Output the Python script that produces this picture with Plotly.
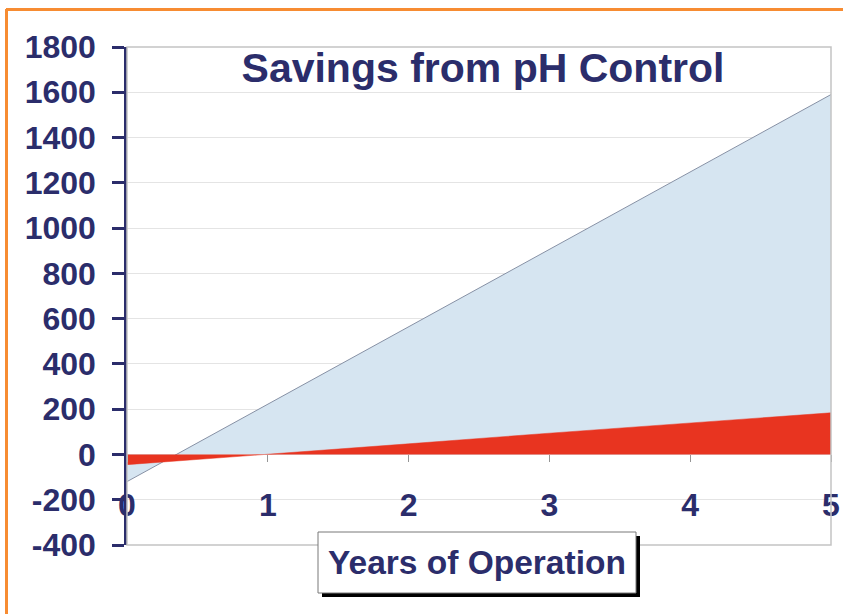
import plotly.graph_objects as go

# ---- data ----
years = [0, 1, 2, 3, 4, 5]
gross_savings = [-120, 222, 565, 905, 1250, 1590]
net_savings = [-45, 0, 47, 94, 139, 184]
x_ticks = [0, 1, 2, 3, 4, 5]
y_ticks = [-400, -200, 0, 200, 400, 600, 800, 1000, 1200, 1400, 1600, 1800]
y_tick_text = ["-400", "-200", "0", "200", "400", "600", "800", "1000", "1200",
               "1400", "1600", "1800"]

NAVY = "#2b2d6b"
FONT = "Liberation Sans, Arial, sans-serif"

W, H = 843, 614
L, R, T, B = 127, 12, 47, 69
PW, PH = W - L - R, H - T - B


def px(x):
    return (x - L) / PW


def py(y):
    return (H - B - y) / PH


fig = go.Figure()
fig.add_trace(go.Scatter(
    x=years, y=gross_savings, mode="lines", fill="tozeroy",
    fillcolor="rgb(214,229,241)", line=dict(color="rgb(135,145,165)", width=1),
    showlegend=False, hoverinfo="skip"))
fig.add_trace(go.Scatter(
    x=years, y=net_savings, mode="lines", fill="tozeroy",
    fillcolor="rgb(232,52,32)", line=dict(color="rgb(232,52,32)", width=0.5),
    showlegend=False, hoverinfo="skip"))

zero_pos = (0 - y_ticks[0]) / (y_ticks[-1] - y_ticks[0])

fig.update_layout(
    width=W, height=H,
    margin=dict(l=L, r=R, t=T, b=B, autoexpand=False),
    paper_bgcolor="white", plot_bgcolor="white",
    title=dict(text="Savings from pH Control", x=px(483), xref="paper",
               y=1 - 68 / H, yanchor="middle", xanchor="center",
               font=dict(family=FONT, size=41, color=NAVY, weight="bold")),
    xaxis=dict(range=[0, 5], tickvals=x_ticks, ticktext=[str(v) for v in x_ticks],
               anchor="free", position=zero_pos, showgrid=False, zeroline=False,
               automargin=False,
               showline=False, ticks="outside", ticklen=7, tickwidth=1,
               tickcolor="rgb(150,150,150)", ticklabelstandoff=15,
               tickfont=dict(family=FONT, size=32, color=NAVY, weight="bold")),
    yaxis=dict(range=[-400, 1800], tickvals=y_ticks, ticktext=y_tick_text,
               showgrid=True, automargin=False,
               gridcolor="rgb(228,228,228)", gridwidth=1, zeroline=False,
               showline=True, linecolor=NAVY, linewidth=2.5,
               ticks="outside", ticklen=12, tickwidth=2.5, tickcolor=NAVY,
               ticklabelstandoff=10,
               tickfont=dict(family=FONT, size=32, color=NAVY, weight="bold")),
)

shapes = []
# plot frame (gray)
shapes.append(dict(type="rect", xref="paper", yref="paper", x0=0, x1=1, y0=0, y1=1,
                   line=dict(color="rgb(195,195,195)", width=1.5), layer="above"))
# orange page frame
orange = "rgb(247,140,50)"
shapes.append(dict(type="line", xref="paper", yref="paper",
                   x0=px(6), x1=px(W + 5), y0=py(9.5), y1=py(9.5),
                   line=dict(color=orange, width=3)))
shapes.append(dict(type="line", xref="paper", yref="paper",
                   x0=px(6.5), x1=px(6.5), y0=py(9), y1=py(H + 5),
                   line=dict(color=orange, width=3)))
# x-axis title box with shadow
shapes.append(dict(type="rect", xref="paper", yref="paper",
                   x0=px(322), x1=px(640), y0=py(597), y1=py(536),
                   fillcolor="black", line=dict(width=0), layer="above"))
shapes.append(dict(type="rect", xref="paper", yref="paper",
                   x0=px(318), x1=px(636), y0=py(593), y1=py(532),
                   fillcolor="white", line=dict(color="rgb(120,120,120)", width=1),
                   layer="above"))
fig.update_layout(shapes=shapes)

fig.add_annotation(text="Years of Operation", xref="paper", yref="paper",
                   x=px(477), y=py(562), xanchor="center", yanchor="middle",
                   showarrow=False,
                   font=dict(family=FONT, size=33.5, color=NAVY, weight="bold"))

fig.write_html("out.html", config={"displayModeBar": False},
               post_script="document.body.style.margin='0px';"
                           "document.body.style.overflow='hidden';")
